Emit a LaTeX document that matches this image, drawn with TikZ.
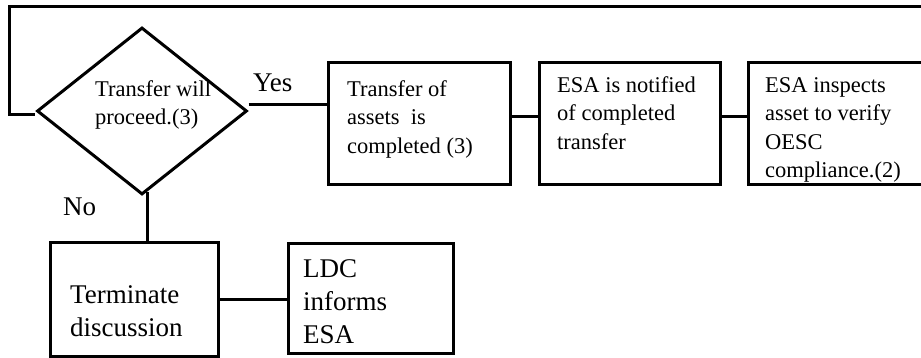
\documentclass[tikz,border=0pt]{standalone}
\usepackage{fontspec}
\setmainfont{Liberation Serif}
\usetikzlibrary{shapes.geometric,calc}
\begin{document}
\begin{tikzpicture}[x=1pt,y=-1pt,
  line/.style={line width=3pt},
  box/.style={draw, line width=3pt, inner sep=0pt, rectangle},
  small/.style={font=\fontsize{22.5}{28.5}\selectfont, align=left, anchor=north west, inner sep=0pt},
  big/.style={font=\fontsize{27}{33}\selectfont, align=left, anchor=north west, inner sep=0pt},
  lbl/.style={font=\fontsize{27}{33}\selectfont, anchor=base west, inner sep=0pt}]
\useasboundingbox (0,0) rectangle (921,358);
% shapes
\node[draw, line width=3pt, diamond, inner sep=0pt, minimum width=210pt, minimum height=167pt] (dia) at (142,111) {};
\node[box, minimum width=182pt, minimum height=122pt] (b1) at (419,124) {};
\node[box, minimum width=181pt, minimum height=122pt] (b2) at (629.5,124) {};
\node[box, minimum width=182pt, minimum height=122pt] (b3) at (839,124) {};
\node[box, minimum width=168pt, minimum height=113pt] (term) at (134,299.5) {};
\node[box, minimum width=165pt, minimum height=109pt] (ldc) at (370.5,298.5) {};
% texts
\node[small] (dt) at (95,79) {\rule{0pt}{17pt}Transfer will\\proceed.(3)};
\node[small] (t1) at (347,79) {\rule{0pt}{17pt}Transfer of\\assets\ \ is\\completed (3)};
\node[small] (t2) at (557,75) {\rule{0pt}{17pt}ESA is notified\\of completed\\transfer};
\node[small] (t3) at (765,75) {\rule{0pt}{17pt}ESA inspects\\asset to verify\\OESC\\compliance.(2)};
\node[big] (tt) at (70,282) {\rule{0pt}{21pt}Terminate\\discussion};
\node[big] (lt) at (303,256) {\rule{0pt}{21pt}LDC\\informs\\ESA};
\node[lbl] (yes) at (253,92) {Yes};
\node[lbl] (no) at (63,215) {No};
% connectors
\coordinate (lc) at (9,7);
\coordinate (lr) at (930,7);
\draw[line] ($(dia.west)+(-1,4)$) -| (lc) -- (lr);
\draw[line] ($(dia.east)+(0,-6)$) -- ($(b1.west)+(0,-19)$);
\draw[line] ($(b1.east)+(0,-7)$) -- ($(b2.west)+(0,-7)$);
\draw[line] ($(b2.east)+(0,-7)$) -- ($(b3.west)+(0,-7)$);
\draw[line] ($(dia.south)+(5,-4)$) -- ($(term.north)+(13,0)$);
\draw[line] (term.east) -- (term.east -| ldc.west);
\end{tikzpicture}
\end{document}
